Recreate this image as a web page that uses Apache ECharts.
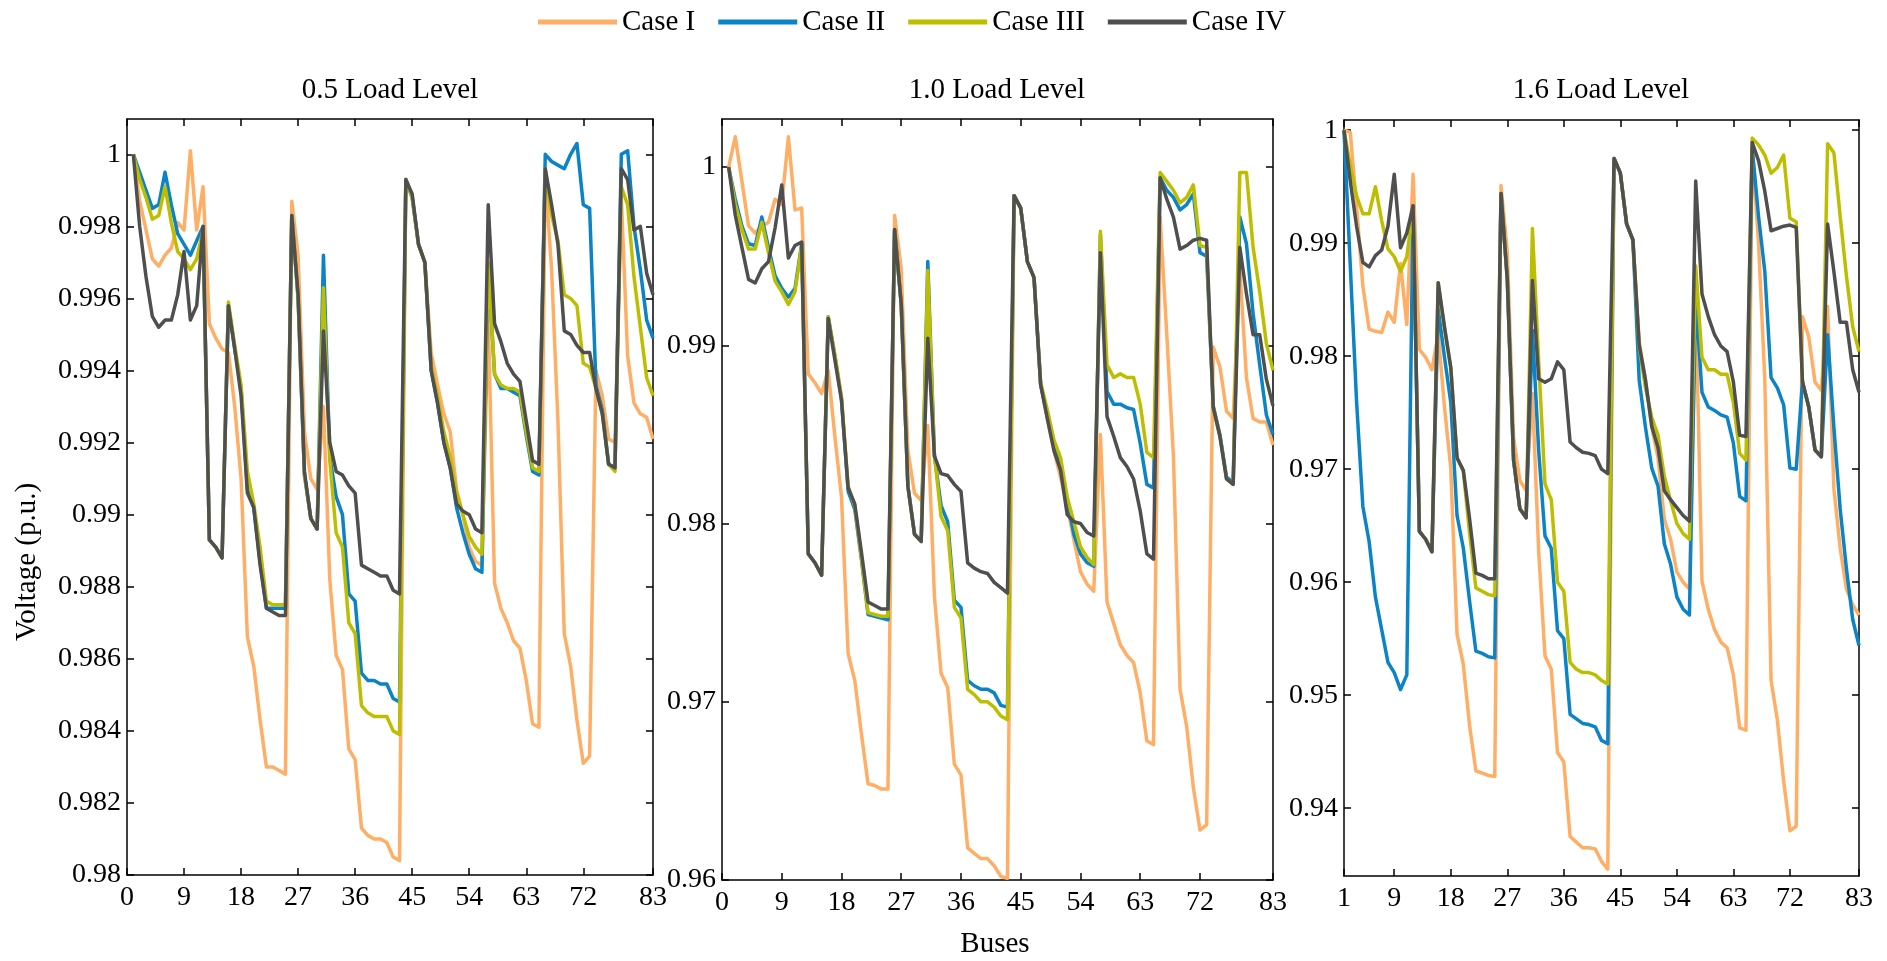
<!DOCTYPE html>
<html>
<head>
<meta charset="utf-8">
<script src="https://cdn.jsdelivr.net/npm/echarts@6/dist/echarts.min.js"></script>
<style>
  html, body { margin: 0; padding: 0; background: #ffffff; }
  #chart { width: 1887px; height: 961px; }
</style>
</head>
<body>
<div id="chart"></div>
<script>
// ---- Bus voltage profiles (p.u.) for buses 1..83 ----
const SERIES_NAMES = ['Case I', 'Case II', 'Case III', 'Case IV'];
const PANEL_TITLES = ['0.5 Load Level', '1.0 Load Level', '1.6 Load Level'];

// 0.5 load level
const CASE1_05 = [
  1.0000, 0.9987, 0.9979, 0.9971, 0.9969, 0.9972, 0.9974, 0.9981, 0.9979, 1.0001,
  0.9979, 0.9991, 0.9953, 0.9949, 0.9946, 0.9945, 0.9930, 0.9910, 0.9866, 0.9858,
  0.9843, 0.9830, 0.9830, 0.9829, 0.9828, 0.9987, 0.9972, 0.9923, 0.9910, 0.9907,
  0.9930, 0.9882, 0.9861, 0.9857, 0.9835, 0.9832, 0.9813, 0.9811, 0.9810, 0.9810,
  0.9809, 0.9805, 0.9804, 0.9993, 0.9988, 0.9975, 0.9970, 0.9945, 0.9936, 0.9928,
  0.9923, 0.9907, 0.9900, 0.9891, 0.9887, 0.9886, 0.9955, 0.9881, 0.9874, 0.9870,
  0.9865, 0.9863, 0.9854, 0.9842, 0.9841, 0.9994, 0.9968, 0.9926, 0.9867, 0.9858,
  0.9843, 0.9831, 0.9833, 0.9940, 0.9933, 0.9921, 0.9920, 0.9988, 0.9944, 0.9931,
  0.9928, 0.9927, 0.9921
];
const CASE2_05 = [
  1.0000, 0.9995, 0.9990, 0.9985, 0.9986, 0.9995, 0.9986, 0.9978, 0.9975, 0.9972,
  0.9976, 0.9980, 0.9893, 0.9891, 0.9888, 0.9958, 0.9946, 0.9935, 0.9907, 0.9902,
  0.9887, 0.9874, 0.9874, 0.9874, 0.9874, 0.9983, 0.9960, 0.9911, 0.9899, 0.9896,
  0.9972, 0.9916, 0.9905, 0.9900, 0.9878, 0.9876, 0.9856, 0.9854, 0.9854, 0.9853,
  0.9853, 0.9849, 0.9848, 0.9993, 0.9988, 0.9975, 0.9970, 0.9940, 0.9931, 0.9920,
  0.9913, 0.9902, 0.9895, 0.9889, 0.9885, 0.9884, 0.9969, 0.9939, 0.9935, 0.9935,
  0.9934, 0.9933, 0.9922, 0.9912, 0.9911, 1.0000, 0.9998, 0.9997, 0.9996, 1.0000,
  1.0003, 0.9986, 0.9985, 0.9936, 0.9929, 0.9914, 0.9913, 1.0000, 1.0001, 0.9980,
  0.9968, 0.9954, 0.9949
];
const CASE3_05 = [
  1.0000, 0.9993, 0.9988, 0.9982, 0.9983, 0.9991, 0.9981, 0.9973, 0.9971, 0.9968,
  0.9971, 0.9979, 0.9893, 0.9891, 0.9888, 0.9959, 0.9947, 0.9936, 0.9912, 0.9903,
  0.9891, 0.9876, 0.9875, 0.9875, 0.9875, 0.9983, 0.9960, 0.9911, 0.9899, 0.9896,
  0.9963, 0.9915, 0.9895, 0.9891, 0.9870, 0.9867, 0.9847, 0.9845, 0.9844, 0.9844,
  0.9844, 0.9840, 0.9839, 0.9993, 0.9988, 0.9975, 0.9970, 0.9941, 0.9933, 0.9923,
  0.9916, 0.9906, 0.9900, 0.9894, 0.9891, 0.9889, 0.9970, 0.9939, 0.9936, 0.9935,
  0.9935, 0.9934, 0.9923, 0.9913, 0.9912, 0.9996, 0.9983, 0.9976, 0.9961, 0.9960,
  0.9958, 0.9942, 0.9941, 0.9935, 0.9928, 0.9914, 0.9912, 0.9991, 0.9986, 0.9966,
  0.9952, 0.9938, 0.9933
];
const CASE4_05 = [
  1.0000, 0.9980, 0.9966, 0.9955, 0.9952, 0.9954, 0.9954, 0.9961, 0.9973, 0.9954,
  0.9958, 0.9980, 0.9893, 0.9891, 0.9888, 0.9958, 0.9946, 0.9933, 0.9906, 0.9902,
  0.9886, 0.9874, 0.9873, 0.9872, 0.9872, 0.9983, 0.9961, 0.9912, 0.9899, 0.9896,
  0.9951, 0.9920, 0.9912, 0.9911, 0.9908, 0.9906, 0.9886, 0.9885, 0.9884, 0.9883,
  0.9883, 0.9879, 0.9878, 0.9993, 0.9989, 0.9975, 0.9970, 0.9940, 0.9931, 0.9920,
  0.9913, 0.9903, 0.9901, 0.9900, 0.9896, 0.9895, 0.9986, 0.9953, 0.9948, 0.9942,
  0.9939, 0.9937, 0.9926, 0.9915, 0.9914, 0.9996, 0.9986, 0.9975, 0.9951, 0.9950,
  0.9947, 0.9945, 0.9945, 0.9935, 0.9928, 0.9914, 0.9913, 0.9996, 0.9993, 0.9979,
  0.9980, 0.9967, 0.9961
];

// 1.0 load level
const CASE1_10 = [
  1.0000, 1.0017, 0.9992, 0.9967, 0.9963, 0.9967, 0.9969, 0.9982, 0.9979, 1.0017,
  0.9976, 0.9977, 0.9884, 0.9879, 0.9873, 0.9886, 0.9849, 0.9815, 0.9727, 0.9712,
  0.9682, 0.9654, 0.9653, 0.9651, 0.9651, 0.9973, 0.9943, 0.9841, 0.9817, 0.9813,
  0.9855, 0.9759, 0.9716, 0.9708, 0.9665, 0.9659, 0.9618, 0.9615, 0.9612, 0.9612,
  0.9608, 0.9602, 0.9601, 0.9984, 0.9977, 0.9947, 0.9938, 0.9878, 0.9859, 0.9841,
  0.9826, 0.9810, 0.9791, 0.9773, 0.9766, 0.9762, 0.9850, 0.9756, 0.9744, 0.9732,
  0.9726, 0.9722, 0.9705, 0.9678, 0.9676, 0.9972, 0.9906, 0.9838, 0.9707, 0.9686,
  0.9652, 0.9628, 0.9631, 0.9899, 0.9888, 0.9863, 0.9859, 0.9943, 0.9882, 0.9859,
  0.9857, 0.9857, 0.9844
];
const CASE2_10 = [
  1.0000, 0.9982, 0.9967, 0.9957, 0.9956, 0.9972, 0.9955, 0.9939, 0.9932, 0.9927,
  0.9932, 0.9957, 0.9783, 0.9778, 0.9771, 0.9916, 0.9894, 0.9870, 0.9818, 0.9808,
  0.9780, 0.9749, 0.9748, 0.9747, 0.9746, 0.9965, 0.9923, 0.9821, 0.9794, 0.9790,
  0.9947, 0.9838, 0.9810, 0.9801, 0.9757, 0.9753, 0.9712, 0.9709, 0.9707, 0.9707,
  0.9705, 0.9698, 0.9697, 0.9984, 0.9977, 0.9947, 0.9938, 0.9878, 0.9861, 0.9844,
  0.9832, 0.9813, 0.9794, 0.9783, 0.9778, 0.9776, 0.9962, 0.9874, 0.9867, 0.9867,
  0.9865, 0.9864, 0.9845, 0.9822, 0.9820, 0.9994, 0.9987, 0.9983, 0.9976, 0.9979,
  0.9985, 0.9952, 0.9950, 0.9866, 0.9850, 0.9826, 0.9823, 0.9972, 0.9957, 0.9918,
  0.9889, 0.9861, 0.9850
];
const CASE3_10 = [
  1.0000, 0.9979, 0.9965, 0.9954, 0.9954, 0.9969, 0.9952, 0.9936, 0.9930, 0.9923,
  0.9930, 0.9956, 0.9783, 0.9778, 0.9771, 0.9916, 0.9895, 0.9871, 0.9821, 0.9810,
  0.9781, 0.9750, 0.9749, 0.9748, 0.9748, 0.9965, 0.9923, 0.9821, 0.9794, 0.9790,
  0.9942, 0.9838, 0.9804, 0.9796, 0.9753, 0.9747, 0.9707, 0.9704, 0.9700, 0.9700,
  0.9697, 0.9692, 0.9690, 0.9984, 0.9977, 0.9947, 0.9938, 0.9879, 0.9864, 0.9847,
  0.9837, 0.9815, 0.9801, 0.9787, 0.9781, 0.9777, 0.9964, 0.9889, 0.9882, 0.9884,
  0.9882, 0.9882, 0.9867, 0.9840, 0.9837, 0.9997, 0.9992, 0.9987, 0.9980, 0.9983,
  0.9990, 0.9956, 0.9955, 0.9865, 0.9849, 0.9825, 0.9822, 0.9997, 0.9997, 0.9955,
  0.9930, 0.9901, 0.9886
];
const CASE4_10 = [
  1.0000, 0.9973, 0.9955, 0.9937, 0.9935, 0.9943, 0.9947, 0.9966, 0.9990, 0.9949,
  0.9956, 0.9958, 0.9783, 0.9778, 0.9771, 0.9915, 0.9892, 0.9869, 0.9820, 0.9811,
  0.9784, 0.9756, 0.9754, 0.9752, 0.9752, 0.9965, 0.9923, 0.9821, 0.9794, 0.9790,
  0.9904, 0.9838, 0.9828, 0.9827, 0.9822, 0.9818, 0.9778, 0.9775, 0.9773, 0.9772,
  0.9767, 0.9764, 0.9761, 0.9984, 0.9977, 0.9947, 0.9938, 0.9878, 0.9859, 0.9841,
  0.9830, 0.9805, 0.9801, 0.9800, 0.9795, 0.9793, 0.9952, 0.9860, 0.9849, 0.9837,
  0.9832, 0.9825, 0.9807, 0.9783, 0.9780, 0.9994, 0.9982, 0.9972, 0.9954, 0.9956,
  0.9959, 0.9960, 0.9959, 0.9865, 0.9849, 0.9825, 0.9822, 0.9955, 0.9929, 0.9906,
  0.9906, 0.9881, 0.9866
];

// 1.6 load level
const CASE1_16 = [
  1.0000, 0.9998, 0.9933, 0.9862, 0.9824, 0.9822, 0.9821, 0.9839, 0.9830, 0.9882,
  0.9828, 0.9961, 0.9806, 0.9799, 0.9788, 0.9820, 0.9755, 0.9701, 0.9554, 0.9527,
  0.9473, 0.9433, 0.9431, 0.9429, 0.9428, 0.9951, 0.9893, 0.9728, 0.9690, 0.9681,
  0.9767, 0.9627, 0.9535, 0.9523, 0.9449, 0.9441, 0.9375, 0.9370, 0.9365, 0.9365,
  0.9364, 0.9353, 0.9346, 0.9975, 0.9962, 0.9917, 0.9903, 0.9813, 0.9779, 0.9737,
  0.9710, 0.9656, 0.9638, 0.9609, 0.9600, 0.9594, 0.9850, 0.9601, 0.9576, 0.9558,
  0.9547, 0.9542, 0.9518, 0.9471, 0.9469, 0.9985, 0.9900, 0.9780, 0.9513, 0.9478,
  0.9424, 0.9380, 0.9384, 0.9835, 0.9817, 0.9777, 0.9770, 0.9844, 0.9683, 0.9630,
  0.9594, 0.9580, 0.9571
];
const CASE2_16 = [
  1.0000, 0.9880, 0.9760, 0.9667, 0.9636, 0.9587, 0.9558, 0.9529, 0.9520, 0.9505,
  0.9518, 0.9933, 0.9645, 0.9638, 0.9627, 0.9842, 0.9799, 0.9759, 0.9659, 0.9630,
  0.9583, 0.9539, 0.9537, 0.9534, 0.9533, 0.9944, 0.9868, 0.9708, 0.9665, 0.9657,
  0.9823, 0.9716, 0.9641, 0.9630, 0.9557, 0.9550, 0.9483, 0.9479, 0.9475, 0.9474,
  0.9472, 0.9460, 0.9457, 0.9975, 0.9962, 0.9917, 0.9903, 0.9779, 0.9737, 0.9701,
  0.9685, 0.9634, 0.9616, 0.9587, 0.9576, 0.9571, 0.9853, 0.9768, 0.9755, 0.9752,
  0.9748, 0.9746, 0.9723, 0.9676, 0.9672, 0.9984, 0.9924, 0.9875, 0.9781, 0.9772,
  0.9757, 0.9701, 0.9700, 0.9778, 0.9755, 0.9717, 0.9711, 0.9819, 0.9737, 0.9665,
  0.9612, 0.9567, 0.9544
];
const CASE3_16 = [
  1.0000, 0.9969, 0.9942, 0.9926, 0.9926, 0.9950, 0.9920, 0.9895, 0.9888, 0.9875,
  0.9888, 0.9931, 0.9645, 0.9638, 0.9627, 0.9865, 0.9824, 0.9790, 0.9710, 0.9698,
  0.9643, 0.9595, 0.9592, 0.9589, 0.9588, 0.9944, 0.9868, 0.9708, 0.9665, 0.9657,
  0.9913, 0.9795, 0.9687, 0.9673, 0.9600, 0.9592, 0.9529, 0.9523, 0.9520, 0.9520,
  0.9518, 0.9513, 0.9510, 0.9975, 0.9962, 0.9917, 0.9903, 0.9808, 0.9772, 0.9746,
  0.9730, 0.9694, 0.9672, 0.9652, 0.9643, 0.9638, 0.9880, 0.9799, 0.9788, 0.9788,
  0.9784, 0.9784, 0.9759, 0.9714, 0.9708, 0.9993, 0.9987, 0.9978, 0.9962, 0.9967,
  0.9978, 0.9922, 0.9919, 0.9777, 0.9755, 0.9717, 0.9711, 0.9988, 0.9980, 0.9924,
  0.9871, 0.9826, 0.9804
];
const CASE4_16 = [
  1.0000, 0.9955, 0.9915, 0.9883, 0.9879, 0.9889, 0.9894, 0.9915, 0.9961, 0.9896,
  0.9909, 0.9933, 0.9645, 0.9638, 0.9627, 0.9865, 0.9826, 0.9790, 0.9710, 0.9699,
  0.9656, 0.9608, 0.9606, 0.9603, 0.9603, 0.9944, 0.9868, 0.9708, 0.9665, 0.9657,
  0.9867, 0.9780, 0.9777, 0.9780, 0.9795, 0.9788, 0.9724, 0.9719, 0.9715, 0.9714,
  0.9712, 0.9700, 0.9696, 0.9975, 0.9962, 0.9917, 0.9903, 0.9810, 0.9779, 0.9738,
  0.9719, 0.9681, 0.9673, 0.9666, 0.9659, 0.9654, 0.9955, 0.9855, 0.9835, 0.9819,
  0.9809, 0.9804, 0.9777, 0.9730, 0.9729, 0.9989, 0.9973, 0.9946, 0.9911, 0.9913,
  0.9915, 0.9916, 0.9914, 0.9777, 0.9755, 0.9717, 0.9711, 0.9917, 0.9875, 0.9830,
  0.9830, 0.9788, 0.9768
];

// Tick positions / labels
const X_TICKS_FROM0 = [0, 9, 18, 27, 36, 45, 54, 63, 72, 83];
const X_TICKS_FROM1 = [1, 9, 18, 27, 36, 45, 54, 63, 72, 83];
const Y_TICKS_05 = [0.98, 0.982, 0.984, 0.986, 0.988, 0.99, 0.992, 0.994, 0.996, 0.998, 1];
const Y_TICKS_10 = [0.96, 0.97, 0.98, 0.99, 1];
const Y_TICKS_16 = [0.94, 0.95, 0.96, 0.97, 0.98, 0.99, 1];

// ---- Styling / layout ----
const COLORS = ['#FFAE66', '#0A84C6', '#BEBE00', '#4F4F4F'];
const FONT = '"Liberation Serif", "Times New Roman", serif';

const PANELS = [
  { title: PANEL_TITLES[0], data: [CASE1_05, CASE2_05, CASE3_05, CASE4_05],
    grid: { left: 127, top: 119, width: 526, height: 756 },
    xMin: 0, xTicks: X_TICKS_FROM0, yMin: 0.98, yMax: 1.00098, yTicks: Y_TICKS_05 },
  { title: PANEL_TITLES[1], data: [CASE1_10, CASE2_10, CASE3_10, CASE4_10],
    grid: { left: 722, top: 119, width: 551, height: 761 },
    xMin: 0, xTicks: X_TICKS_FROM0, yMin: 0.96, yMax: 1.0027, yTicks: Y_TICKS_10 },
  { title: PANEL_TITLES[2], data: [CASE1_16, CASE2_16, CASE3_16, CASE4_16],
    grid: { left: 1344, top: 120, width: 515, height: 756 },
    xMin: 1, xTicks: X_TICKS_FROM1, yMin: 0.934, yMax: 1.0009, yTicks: Y_TICKS_16 }
];

const BUS_COUNT = 83;
const buses = [];
for (let b = 1; b <= BUS_COUNT; b++) buses.push(b);

const axisLineStyle = { color: '#000', width: 1.5 };
const fmtNum = v => String(+Number(v).toFixed(4));

function valueAxis(opts) {
  return Object.assign({
    type: 'value',
    scale: true,
    splitLine: { show: false },
    axisLine: { show: true, onZero: false, lineStyle: axisLineStyle },
  }, opts);
}

const grids = [], xAxes = [], yAxes = [], series = [];
PANELS.forEach((p, i) => {
  grids.push(Object.assign({ containLabel: false }, p.grid));
  // bottom axis with labels, top axis as frame with ticks
  xAxes.push(valueAxis({
    gridIndex: i, position: 'bottom', min: p.xMin, max: 83,
    axisTick: { show: true, inside: true, length: 7, lineStyle: axisLineStyle, customValues: p.xTicks },
    axisLabel: { show: true, customValues: p.xTicks, color: '#000', fontFamily: FONT, fontSize: 28, margin: 9,
                 formatter: v => fmtNum(v) }
  }));
  xAxes.push(valueAxis({
    gridIndex: i, position: 'top', min: p.xMin, max: 83,
    axisTick: { show: true, inside: true, length: 7, lineStyle: axisLineStyle, customValues: p.xTicks },
    axisLabel: { show: false }
  }));
  yAxes.push(valueAxis({
    gridIndex: i, position: 'left', min: p.yMin, max: p.yMax,
    axisTick: { show: true, inside: true, length: 7, lineStyle: axisLineStyle, customValues: p.yTicks },
    axisLabel: { show: true, customValues: p.yTicks, color: '#000', fontFamily: FONT, fontSize: 28, margin: 6,
                 formatter: v => fmtNum(v) }
  }));
  yAxes.push(valueAxis({
    gridIndex: i, position: 'right', min: p.yMin, max: p.yMax,
    axisTick: { show: true, inside: true, length: 7, lineStyle: axisLineStyle, customValues: p.yTicks },
    axisLabel: { show: false }
  }));
  p.data.forEach((vals, k) => {
    series.push({
      name: SERIES_NAMES[k],
      type: 'line',
      xAxisIndex: 2 * i,
      yAxisIndex: 2 * i,
      data: buses.map((b, j) => [b, vals[j]]),
      showSymbol: false,
      symbol: 'none',
      animation: false,
      z: 2 + k,
      lineStyle: { color: COLORS[k], width: 3.5, join: 'round' },
      itemStyle: { color: COLORS[k] }
    });
  });
});

const textStyle = size => ({ font: size + 'px ' + FONT, fill: '#000', align: 'center', verticalAlign: 'middle' });

const graphics = [
  { type: 'text', x: 390, y: 90, style: Object.assign({ text: PANEL_TITLES[0] }, textStyle(29)) },
  { type: 'text', x: 997, y: 90, style: Object.assign({ text: PANEL_TITLES[1] }, textStyle(29)) },
  { type: 'text', x: 1601, y: 90, style: Object.assign({ text: PANEL_TITLES[2] }, textStyle(29)) },
  { type: 'text', x: 27, y: 562, rotation: Math.PI / 2, style: Object.assign({ text: 'Voltage (p.u.)' }, textStyle(29)) },
  { type: 'text', x: 995, y: 944, style: Object.assign({ text: 'Buses' }, textStyle(29)) }
];

const chart = echarts.init(document.getElementById('chart'), null, { renderer: 'canvas' });
chart.setOption({
  backgroundColor: '#ffffff',
  animation: false,
  color: COLORS,
  legend: {
    data: SERIES_NAMES,
    icon: 'rect',
    left: 533, top: 2,
    itemWidth: 79, itemHeight: 5, itemGap: 23,
    textStyle: { color: '#000', fontFamily: FONT, fontSize: 29, lineHeight: 30 }
  },
  grid: grids,
  xAxis: xAxes,
  yAxis: yAxes,
  series: series,
  graphic: graphics
});
</script>
</body>
</html>
